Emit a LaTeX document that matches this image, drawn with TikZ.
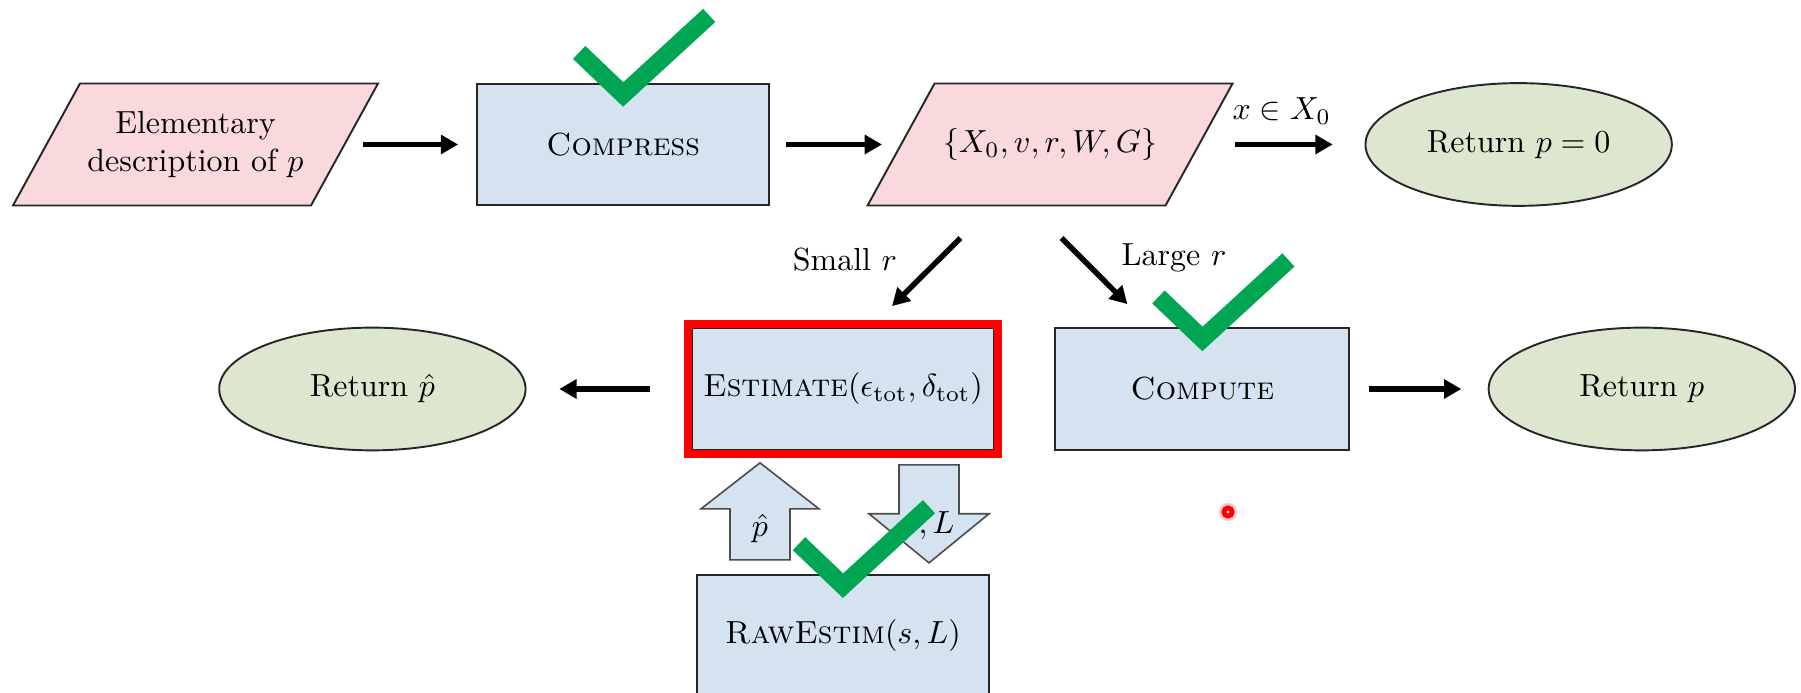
\documentclass[tikz,border=0pt]{standalone}
\usepackage{amsmath}
\usepackage{amssymb}
\usetikzlibrary{arrows.meta, positioning, shapes.geometric, fit, calc, backgrounds}

\definecolor{ioPink}{RGB}{250,217,221}
\definecolor{procBlue}{RGB}{213,227,241}
\definecolor{endGreen}{RGB}{221,231,207}
\definecolor{tickGreen}{RGB}{0,166,81}

\newcommand{\tickon}[1]{\draw[tickmark] ($(#1.north)+(-0.484,0.332)$) -- ++(0.484,-0.462) -- ++(0.946,0.869);}
\newcommand{\ioshape}[1]{\begin{scope}[on background layer]
  \filldraw[ioline] ([xshift=-0.3685cm]#1.south west) -- ([xshift=-0.3685cm]#1.south east) -- ([xshift=0.3685cm]#1.north east) -- ([xshift=0.3685cm]#1.north west) -- cycle;
\end{scope}}

\begin{document}
\begin{tikzpicture}[
                    node distance=1.4cm,
                    block/.style={rectangle, draw=black!85, line width=0.6pt, fill=procBlue, minimum width=3.21cm, minimum height=1.34cm, align=center},
                    io/.style={rectangle, minimum width=3.278cm, minimum height=1.342cm, outer sep=0pt, align=center},
                    ioline/.style={draw=black!85, line width=0.6pt, fill=ioPink},
                    result/.style={ellipse, draw=black!85, line width=0.6pt, fill=endGreen, minimum width=3.37cm, minimum height=1.35cm},
                    arrow/.style={-{Triangle[length=5.4pt, width=5.8pt]}, line width=1.7pt},
                    blockarrow/.style={draw=black!70, line width=0.5pt, fill=procBlue},
                    tickmark/.style={draw=tickGreen, line width=5.6pt, line join=miter}
                ]
                \useasboundingbox (0,0) rectangle (19.811,-7.623);

                % top row
                \node[io] (desc) at (2.1505,-1.5895) {Elementary\\description of $p$};
                \node[block, right=1.45cm of desc] (compress) {\textsc{Compress}};
                \node[io, right=1.441cm of compress] (data) {$\{X_0, v, r, W, G\}$};
                \node[result, right=1.82cm of data] (retzero) {Return $p = 0$};
                \ioshape{desc}
                \ioshape{data}

                % middle row
                \node[block] (est) at (9.273,-4.279) {\textsc{Estimate}$(\epsilon_{\mathrm{tot}}, \delta_{\mathrm{tot}})$};
                \node[draw=red, line width=2.6pt, fit=(est), inner sep=0.038cm] (focus) {};
                \node[result, left=1.815cm of est] (rethat) {Return $\hat{p}$};
                \node[block, right=0.66cm of est, minimum width=3.234cm] (compute) {\textsc{Compute}};
                \node[result, right=1.51cm of compute] (retp) {Return $p$};

                % bottom
                \node[block, below=1.353cm of est] (raw) {\textsc{RawEstim}$(s, L)$};

                \coordinate (uptail) at ([xshift=-0.913cm, yshift=0.154cm]raw.north);
                \coordinate (uptip) at ([xshift=-0.913cm, yshift=-0.132cm]est.south);
                \draw[blockarrow] ($(uptail)+(-0.33,0)$) -- ($(uptip)+(-0.33,-0.506)$) -- ($(uptip)+(-0.649,-0.506)$) -- (uptip)
                    -- ($(uptip)+(0.649,-0.506)$) -- ($(uptip)+(0.33,-0.506)$) -- ($(uptail)+(0.33,0)$) -- cycle;
                \node (phat) at ($(uptail)+(0,0.35)$) {$\hat{p}$};

                \coordinate (downtail) at ([xshift=0.946cm, yshift=-0.154cm]est.south);
                \coordinate (downtip) at ([xshift=0.946cm, yshift=0.121cm]raw.north);
                \draw[blockarrow] ($(downtail)+(-0.33,0)$) -- ($(downtip)+(-0.33,0.54)$) -- ($(downtip)+(-0.66,0.54)$) -- (downtip)
                    -- ($(downtip)+(0.66,0.54)$) -- ($(downtip)+(0.33,0.54)$) -- ($(downtail)+(0.33,0)$) -- cycle;
                \node (sl) at ($(downtail)+(0,-0.67)$) {$s, L$};

                \draw[arrow, shorten <=0.2cm, shorten >=0.2cm] (desc) -- (compress);
                \draw[arrow, shorten <=0.18cm, shorten >=0.21cm] (compress) -- (data);
                \draw[arrow, shorten <=0.4cm, shorten >=0.35cm] (data) -- node[above=2pt] (inzero) {$x \in X_0$} (retzero);
                \draw[arrow] ([xshift=-0.985cm, yshift=-0.358cm]data.south) -- ([xshift=0.539cm, yshift=0.231cm]est.north);
                \draw[arrow] ([xshift=0.127cm, yshift=-0.358cm]data.south) -- ([xshift=-0.825cm, yshift=0.253cm]compute.north);
                \node (smalllbl) at (9.295,-2.86) {Small $r$};
                \node (largelbl) at (12.914,-2.838) {Large $r$};
                \draw[arrow, shorten <=0.46cm, shorten >=0.36cm] (est) -- (rethat);
                \draw[arrow, shorten <=0.21cm, shorten >=0.29cm] (compute) -- (retp);

                % checks and pointer
                \tickon{compress}
                \tickon{compute}
                \tickon{raw}
                \fill[red!20] (13.508,-5.632) circle (0.1);
                \draw[red, line width=1.5pt, fill=white] (13.508,-5.632) circle (0.045);
\end{tikzpicture}
\end{document}
